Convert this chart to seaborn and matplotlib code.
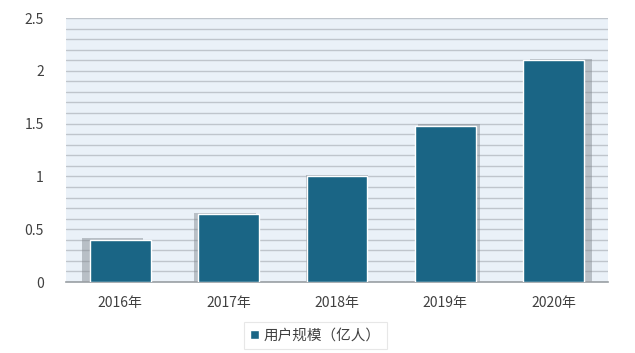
import matplotlib
matplotlib.use("Agg")
import matplotlib.pyplot as plt
import seaborn as sns
import numpy as np
import pandas as pd
from matplotlib.ticker import MultipleLocator
from matplotlib.patches import Rectangle

categories = ["2016年", "2017年", "2018年", "2019年", "2020年"]
values = [0.40, 0.64, 1.00, 1.48, 2.10]
series_name = "用户规模（亿人）"
yticks = [0, 0.5, 1, 1.5, 2, 2.5]

sns.set_theme(style="white")
plt.rcParams['font.family'] = ['Noto Sans CJK SC', 'DejaVu Sans']

df = pd.DataFrame({"year": categories, "value": values, "series": series_name})

fig = plt.figure(figsize=(6.35, 3.53), dpi=100)
ax = fig.add_axes([0.104, 0.201, 0.853, 0.748])
ax.set_facecolor("#eaf1f8")

bar_color = "#1a6585"
width = 0.56
n = len(categories)
# perspective shadows behind bars
for i, v in enumerate(values):
    off = (i - (n - 1) / 2) * 0.035
    ax.add_patch(Rectangle((i - width / 2 + off - 0.005, 0), width + 0.01, v + 0.015,
                           facecolor="#7d838a", alpha=0.45, edgecolor="none", zorder=2))

sns.barplot(data=df, x="year", y="value", hue="series", palette=[bar_color],
            saturation=1, width=width, edgecolor="white", linewidth=1.0, ax=ax,
            zorder=3, legend=True)
for p in ax.containers[0]:
    p.set_zorder(3)

ax.set_xlim(-0.5, n - 0.5)
ax.set_ylim(0, 2.5)
ax.set_yticks(yticks)
ax.set_yticklabels([("%g" % t) for t in yticks])
ax.yaxis.set_minor_locator(MultipleLocator(0.1))
ax.grid(which="both", axis="y", color="#bfc5cc", linewidth=1.0, zorder=1)
ax.set_axisbelow(True)
ax.set_xlabel("")
ax.set_ylabel("")
for s in ["left", "right", "top"]:
    ax.spines[s].set_visible(False)
ax.spines["bottom"].set_color("#9a9fa4")
ax.spines["bottom"].set_linewidth(1.2)
ax.tick_params(axis="both", which="both", length=0, colors="#404040", labelsize=10)
ax.tick_params(axis="x", pad=10)
ax.tick_params(axis="y", pad=16)

leg = ax.legend(loc="upper center", bbox_to_anchor=(0.46, -0.125), frameon=True,
                fontsize=10.5, handlelength=0.6, handleheight=0.6, handletextpad=0.3,
                borderpad=0.45, fancybox=False, shadow=False)
leg.get_frame().set_edgecolor("#e2e2e2")
leg.get_frame().set_linewidth(0.8)
for t in leg.get_texts():
    t.set_color("#404040")

fig.savefig("out.png", dpi=100, facecolor="white")
